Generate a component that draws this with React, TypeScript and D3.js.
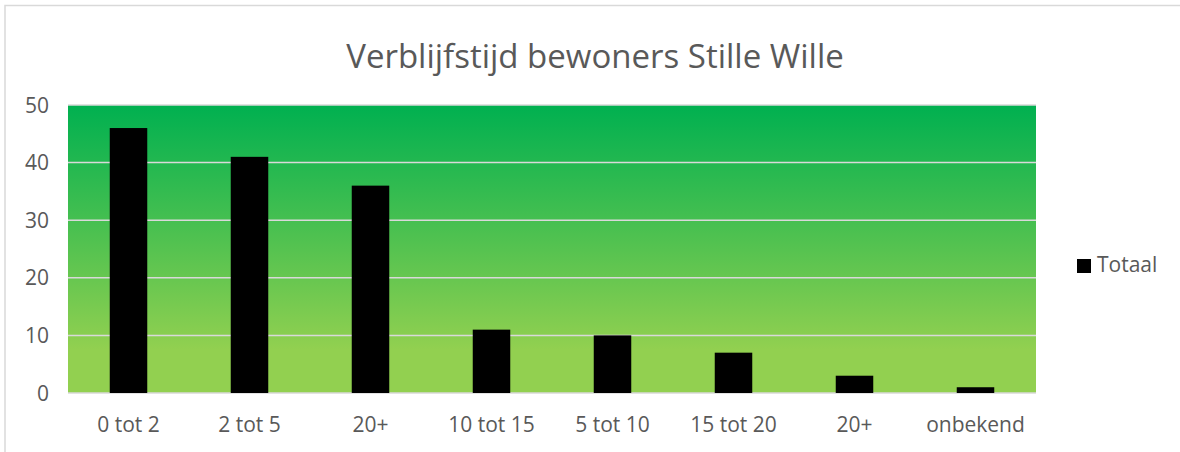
import React from 'react';
import * as d3 from 'd3';

const categories = ['0 tot 2', '2 tot 5', '20+', '10 tot 15', '5 tot 10', '15 tot 20', '20+ ', 'onbekend'];
const totaal = [46, 41, 36, 11, 10, 7, 3, 1];
const yTicks = [0, 10, 20, 30, 40, 50];

const W = 1180;
const H = 452;
const PLOT = { left: 68, right: 1036, top: 105, bottom: 393 };
const FONT = '"Open Sans", "Noto Sans", sans-serif';

export default function App() {
  const x = d3.scaleBand<string>()
    .domain(categories)
    .range([PLOT.left, PLOT.right])
    .paddingInner(0.69)
    .paddingOuter(0.345);

  const y = d3.scaleLinear().domain([0, 50]).range([PLOT.bottom, PLOT.top]);

  return (
    <svg width={W} height={H} style={{ position: 'absolute', left: 0, top: 0, background: '#fff' }}>
      <defs>
        <linearGradient id="bg" x1="0" y1="0" x2="0" y2="1">
          <stop offset="0" stopColor="#00b050" />
          <stop offset="0.85" stopColor="#92d050" />
          <stop offset="1" stopColor="#92d050" />
        </linearGradient>
      </defs>
      {/* chart border */}
      <rect x={5} y={5.5} width={W + 10} height={H + 10} fill="none" stroke="#d9d9d9" strokeWidth={1.5} />

      <text x={595} y={68} textAnchor="middle" fontFamily={FONT} fontSize={33} fill="#595959">
        Verblijfstijd bewoners Stille Wille
      </text>

      <rect x={PLOT.left} y={PLOT.top} width={PLOT.right - PLOT.left} height={PLOT.bottom - PLOT.top} fill="url(#bg)" />

      {yTicks.map(t => (
        <g key={t}>
          <line x1={PLOT.left} x2={PLOT.right} y1={y(t)} y2={y(t)} stroke="#d9d9d9" strokeWidth={1.5} />
          <text x={49} y={y(t) + 7.6} textAnchor="end"
            fontFamily={FONT} fontSize={21} fill="#595959">{t}</text>
        </g>
      ))}

      {categories.map((c, i) => (
        <rect key={c} x={x(c)} y={y(totaal[i])} width={x.bandwidth()} height={y(0) - y(totaal[i])} fill="#000" />
      ))}

      {categories.map(c => (
        <text key={c} x={(x(c) ?? 0) + x.bandwidth() / 2} y={432.3} textAnchor="middle"
          fontFamily={FONT} fontSize={21} fill="#595959">{c.trim()}</text>
      ))}

      <rect x={1077} y={259} width={14} height={14} fill="#000" />
      <text x={1097} y={271.7} fontFamily={FONT} fontSize={21} fill="#595959">Totaal</text>
    </svg>
  );
}
